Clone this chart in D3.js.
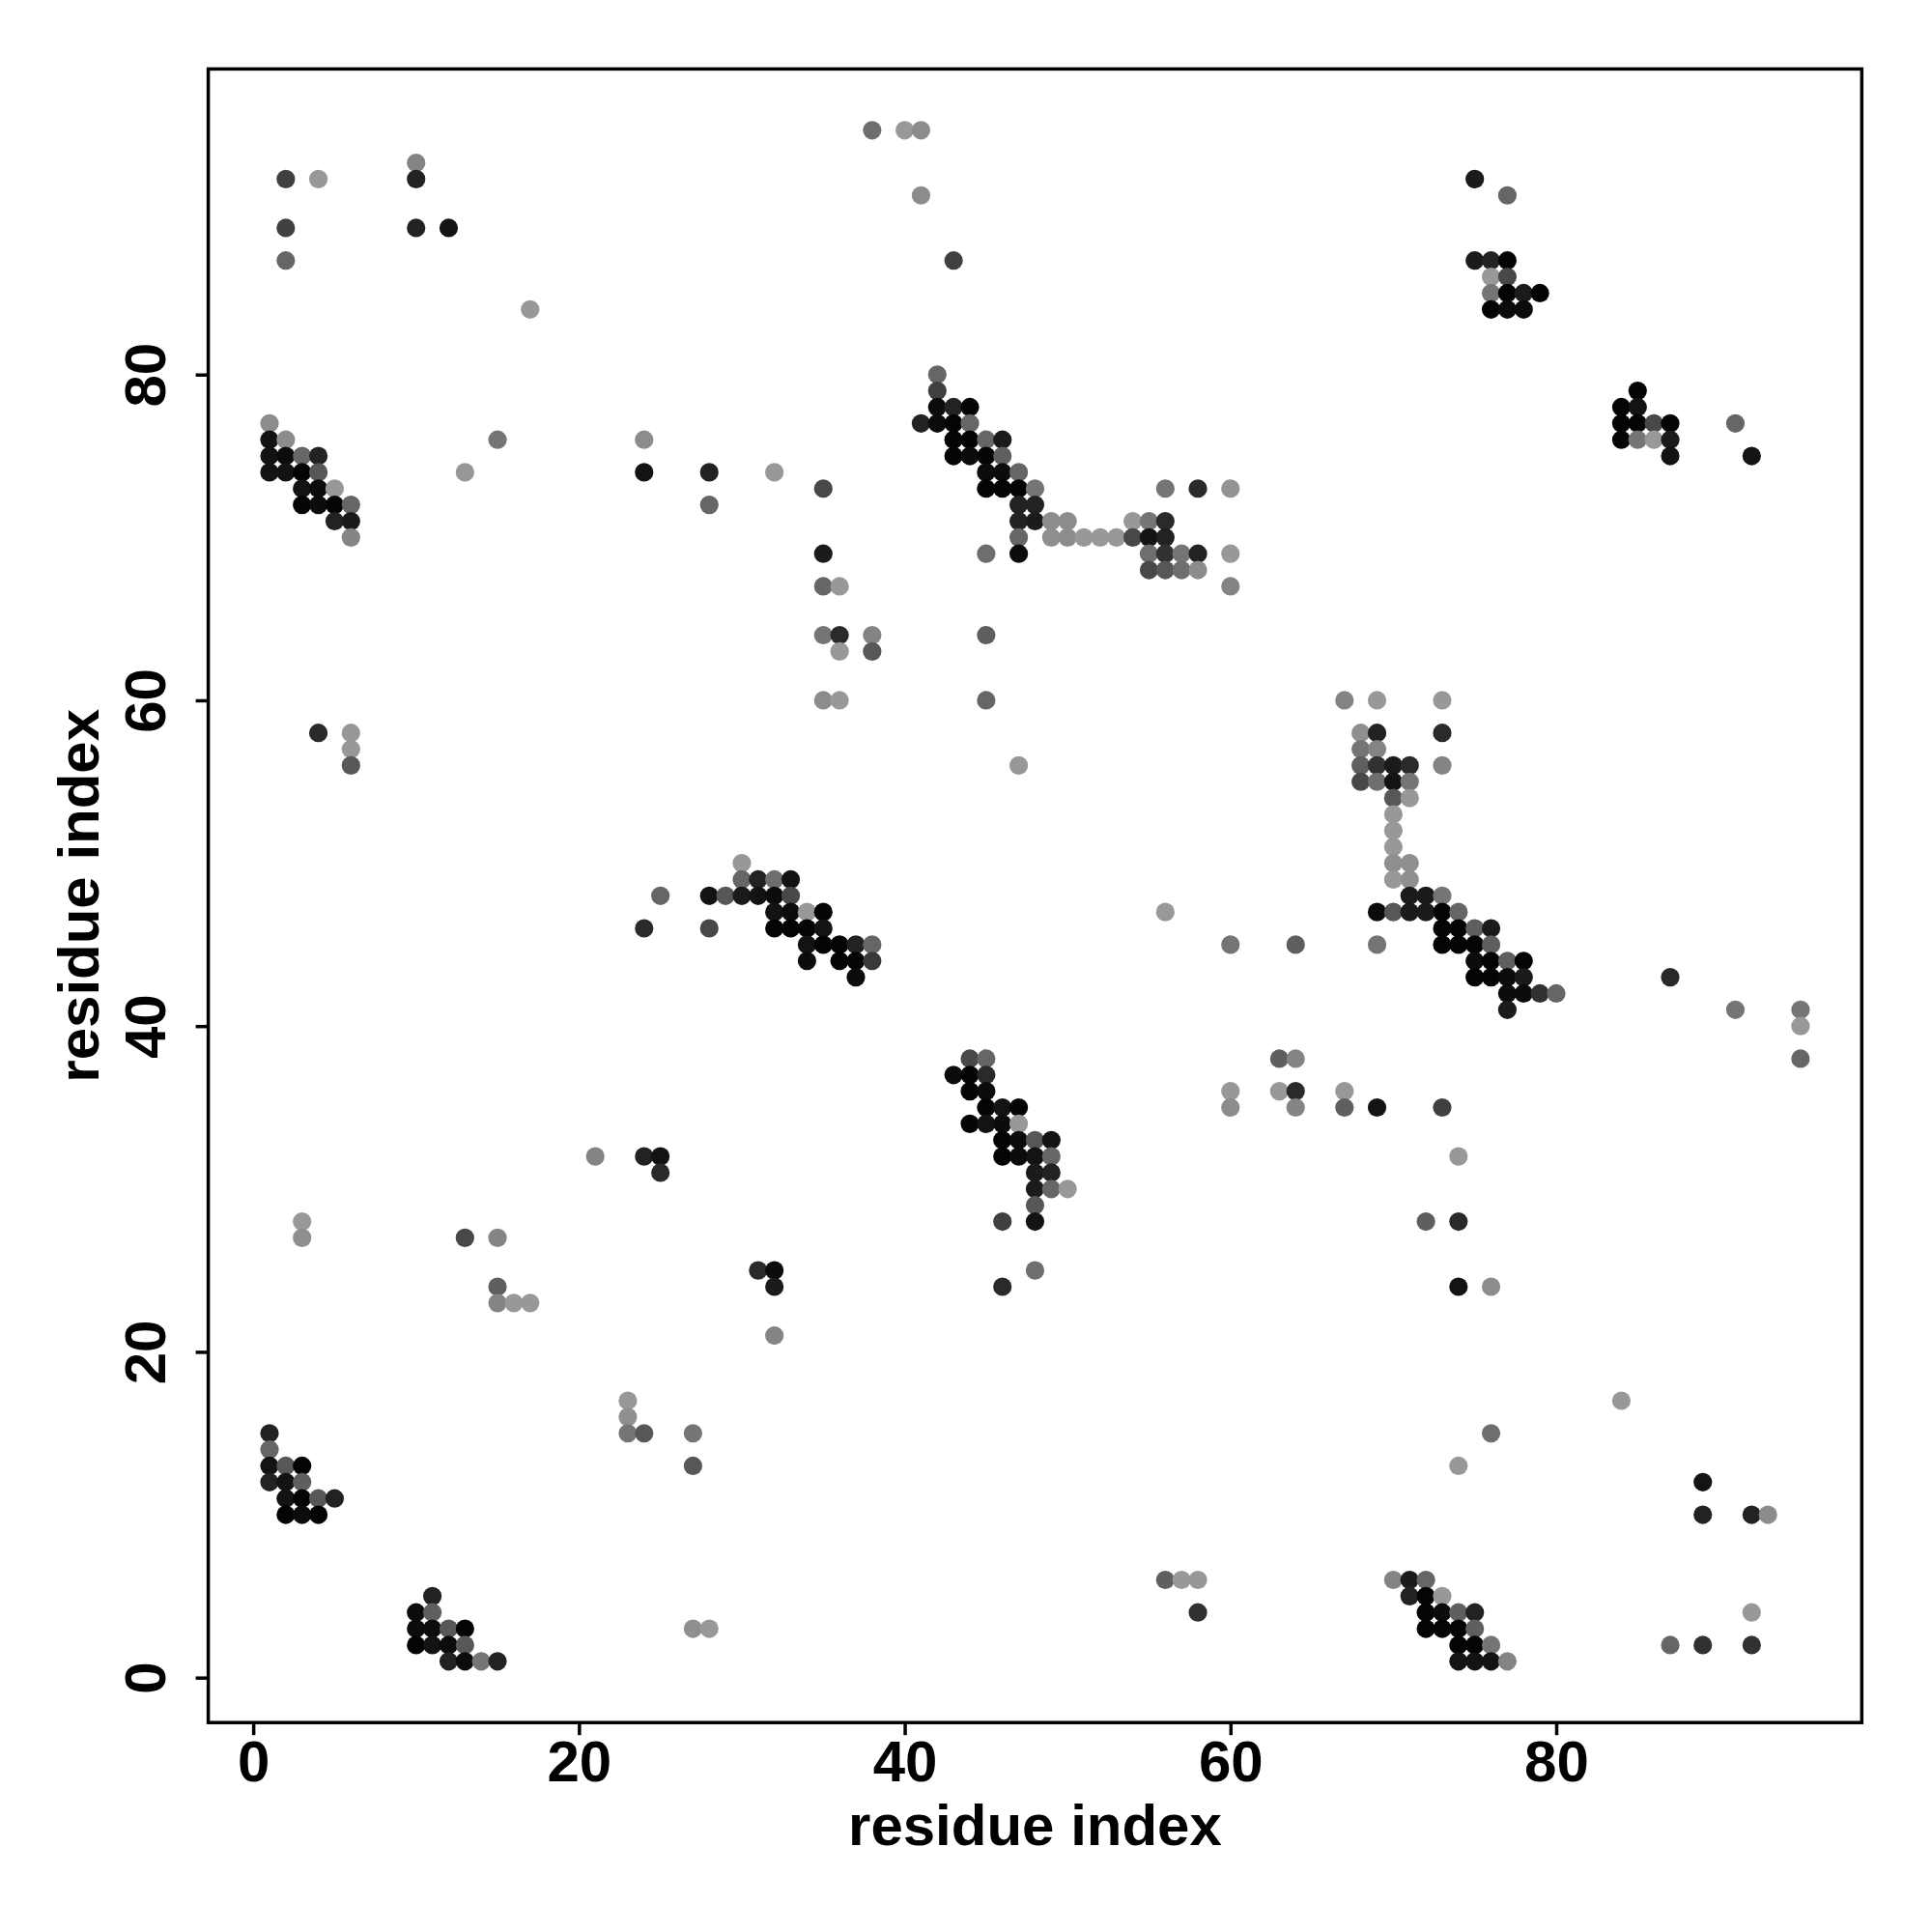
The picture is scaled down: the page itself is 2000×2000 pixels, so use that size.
<!DOCTYPE html>
<html>
<head>
<meta charset="utf-8">
<script src="https://cdn.jsdelivr.net/npm/d3@7"></script>
<style>
  html, body { margin: 0; padding: 0; background: #fff; }
  svg { display: block; }
  text { font-family: "Liberation Sans", Arial, Helvetica, sans-serif; font-weight: bold; }
</style>
</head>
<body>
<svg id="chart" width="2000" height="2000"></svg>
<script>
// ---- data: [residue i, residue j, contact score 0..1] ----
const topLeftScatter = [[2,92,0.6],[4,92,0.02],[10,93,0.15],[10,92,0.8],[2,89,0.6],[10,89,0.8],[12,89,0.9],[2,87,0.35],[17,84,0.02],[15,76,0.25],[13,74,0.02]];
const topLeftBlock = [[1,77,0.1],[1,76,0.9],[2,76,0.1],[1,75,0.9],[2,75,0.95],[3,75,0.35],[4,75,0.8],[1,74,0.9],[2,74,0.9],[3,74,1],[4,74,0.45],[3,73,0.9],[4,73,0.95],[5,73,0.02],[3,72,1],[4,72,0.95],[5,72,1],[6,72,0.35],[5,71,0.8],[6,71,0.85],[6,70,0.15]];
const topMiddleScatter = [[24,76,0.1],[24,74,0.9],[28,74,0.8],[32,74,0.02],[28,72,0.35],[35,73,0.55],[35,69,0.85],[35,67,0.35],[36,67,0.02],[35,64,0.25],[36,64,0.75],[38,64,0.15],[36,63,0.02],[38,63,0.45],[35,60,0.1],[36,60,0.02],[38,95,0.3],[40,95,0.02],[41,95,0.1],[41,91,0.1],[43,87,0.6],[45,69,0.3],[45,64,0.4],[45,60,0.35],[47,56,0.02]];
const upperDiagonal = [[42,80,0.35],[42,79,0.6],[42,78,0.95],[43,78,0.8],[44,78,1],[41,77,0.8],[42,77,0.95],[43,77,1],[44,77,0.35],[43,76,1],[44,76,1],[45,76,0.35],[46,76,0.85],[43,75,1],[44,75,0.95],[45,75,1],[46,75,0.4],[45,74,0.95],[46,74,0.95],[47,74,0.35],[45,73,1],[46,73,1],[47,73,1],[48,73,0.25],[47,72,0.8],[48,72,0.8],[47,71,0.8],[48,71,0.85],[47,70,0.35],[47,69,0.95]];
const upperStrand = [[56,73,0.25],[58,73,0.75],[60,73,0.05],[49,71,0.1],[50,71,0.1],[54,71,0.02],[55,71,0.25],[56,71,0.75],[49,70,0.08],[50,70,0.1],[51,70,0.02],[52,70,0.02],[53,70,0.02],[54,70,0.55],[55,70,0.9],[56,70,0.8],[55,69,0.3],[56,69,0.7],[57,69,0.25],[58,69,0.8],[60,69,0.02],[55,68,0.55],[56,68,0.45],[57,68,0.3],[58,68,0.1],[60,67,0.15]];
const topRightBlock = [[75,92,0.85],[77,91,0.35],[75,87,0.85],[76,87,0.8],[77,87,1],[76,86,0.02],[77,86,0.55],[76,85,0.25],[77,85,1],[78,85,0.85],[79,85,1],[76,84,1],[77,84,0.95],[78,84,0.95],[85,79,1],[84,78,1],[85,78,0.9],[84,77,1],[85,77,1],[86,77,0.55],[87,77,1],[84,76,1],[85,76,0.25],[86,76,0.02],[87,76,0.85],[87,75,0.9],[91,77,0.35],[92,75,0.9]];
const leftMiddleScatter = [[4,58,0.75],[6,58,0.02],[6,57,0.02],[6,56,0.45],[21,32,0.15]];
const middleDiagonal = [[30,50,0.02],[30,49,0.35],[31,49,0.8],[32,49,0.3],[33,49,0.9],[25,48,0.35],[28,48,0.9],[29,48,0.45],[30,48,0.85],[31,48,0.9],[32,48,0.95],[33,48,0.55],[32,47,0.9],[33,47,0.95],[34,47,0.02],[35,47,1],[24,46,0.75],[28,46,0.55],[32,46,1],[33,46,1],[34,46,1],[35,46,0.9],[34,45,0.9],[35,45,1],[36,45,1],[37,45,0.8],[38,45,0.35],[34,44,0.95],[36,44,1],[37,44,1],[38,44,0.65],[37,43,0.95]];
const centralDiagonal = [[44,38,0.55],[45,38,0.35],[43,37,0.95],[44,37,1],[45,37,0.75],[44,36,1],[45,36,0.95],[45,35,1],[46,35,0.9],[47,35,1],[44,34,1],[45,34,0.9],[46,34,0.95],[47,34,0.02],[46,33,1],[47,33,0.95],[48,33,0.45],[49,33,0.9],[46,32,1],[47,32,0.95],[48,32,0.9],[49,32,0.35],[48,31,0.85],[49,31,0.8],[48,30,0.85],[49,30,0.35],[50,30,0.02],[48,29,0.45],[46,28,0.6],[48,28,0.9],[48,25,0.3],[46,24,0.75]];
const rightDiagonal = [[67,60,0.15],[69,60,0.02],[73,60,0.02],[68,58,0.08],[69,58,0.8],[73,58,0.75],[68,57,0.25],[69,57,0.15],[68,56,0.4],[69,56,0.7],[70,56,0.85],[71,56,0.75],[73,56,0.15],[68,55,0.55],[69,55,0.3],[70,55,0.9],[71,55,0.25],[70,54,0.45],[71,54,0.02],[70,53,0.02],[70,52,0.02],[70,51,0.02],[70,50,0.08],[71,50,0.08],[70,49,0.02],[71,49,0.08],[71,48,0.85],[72,48,0.85],[73,48,0.25],[69,47,0.95],[70,47,0.45],[71,47,0.85],[72,47,0.85],[73,47,1],[74,47,0.35],[73,46,1],[74,46,1],[75,46,0.4],[76,46,0.85],[73,45,1],[74,45,1],[75,45,1],[76,45,0.4],[75,44,0.95],[76,44,1],[77,44,0.4],[78,44,1],[75,43,1],[76,43,1],[77,43,0.95],[78,43,0.85],[77,42,0.95],[78,42,0.95],[79,42,0.7],[80,42,0.35],[77,41,0.85]];
const rightMiddleScatter = [[56,47,0.02],[60,45,0.25],[64,45,0.4],[69,45,0.25],[87,43,0.75],[91,41,0.25],[95,41,0.25],[95,40,0.02],[95,38,0.35],[63,38,0.4],[64,38,0.15],[60,36,0.02],[63,36,0.02],[64,36,0.75],[67,36,0.02],[60,35,0.1],[64,35,0.15],[67,35,0.4],[69,35,0.9],[73,35,0.6],[74,32,0.02]];
const bottomLeftBlock = [[3,28,0.02],[3,27,0.08],[13,27,0.55],[15,27,0.15],[15,24,0.4],[15,23,0.15],[16,23,0.02],[17,23,0.02],[1,15,0.8],[1,14,0.35],[1,13,0.9],[2,13,0.45],[3,13,1],[1,12,0.8],[2,12,0.9],[3,12,0.4],[2,11,0.9],[3,11,1],[4,11,0.45],[5,11,0.8],[2,10,1],[3,10,0.95],[4,10,1],[11,5,0.8],[10,4,0.95],[11,4,0.4],[10,3,0.95],[11,3,0.95],[12,3,0.45],[13,3,1],[10,2,1],[11,2,0.9],[12,2,0.95],[13,2,0.45],[12,1,0.8],[13,1,0.95],[14,1,0.25],[15,1,0.8]];
const bottomMiddleScatter = [[24,32,0.8],[25,32,0.9],[25,31,0.75],[31,25,0.75],[32,25,0.95],[32,24,0.85],[32,21,0.15],[23,17,0.02],[23,16,0.08],[23,15,0.25],[24,15,0.45],[27,15,0.25],[27,13,0.45],[27,3,0.08],[28,3,0.02],[56,6,0.4],[57,6,0.02],[58,6,0.02],[58,4,0.7]];
const bottomRightBlock = [[72,28,0.4],[74,28,0.75],[74,24,0.9],[76,24,0.1],[84,17,0.02],[76,15,0.3],[74,13,0.02],[89,12,0.9],[89,10,0.8],[92,10,0.8],[93,10,0.1],[92,4,0.02],[87,2,0.35],[89,2,0.7],[92,2,0.7],[70,6,0.15],[71,6,0.85],[72,6,0.35],[71,5,0.8],[72,5,1],[73,5,0.02],[72,4,1],[73,4,0.95],[74,4,0.4],[75,4,0.8],[72,3,1],[73,3,1],[74,3,1],[75,3,0.4],[74,2,1],[75,2,1],[76,2,0.25],[74,1,0.9],[75,1,0.9],[76,1,0.9],[77,1,0.15]];

const tickValues = [0, 20, 40, 60, 80];
const xLabel = "residue index";
const yLabel = "residue index";

// ---- drawing ----
const contacts = [].concat(topLeftScatter, topLeftBlock, topMiddleScatter, upperDiagonal, upperStrand,
  topRightBlock, leftMiddleScatter, middleDiagonal, centralDiagonal, rightDiagonal, rightMiddleScatter,
  bottomLeftBlock, bottomMiddleScatter, bottomRightBlock);

const plot = { left: 215.6, right: 1927.3, top: 71.4, bottom: 1783.2 };
const fontSize = 60;

function padded(ext) { const p = (ext[1] - ext[0]) * 0.04; return [ext[0] - p, ext[1] + p]; }
const xs = padded(d3.extent(contacts, d => d[0]));
const ys = padded(d3.extent(contacts, d => d[1]));

const x = d3.scaleLinear().domain(xs).range([plot.left, plot.right]);
const y = d3.scaleLinear().domain(ys).range([plot.bottom, plot.top]);
const shade = d3.scaleLinear().domain([0, 1]).range(["#9b9b9b", "#040404"]);

const svg = d3.select("#chart");
svg.append("rect").attr("width", 2000).attr("height", 2000).attr("fill", "#fff");

svg.append("g").selectAll("circle").data(contacts).join("circle")
  .attr("cx", d => x(d[0]))
  .attr("cy", d => y(d[1]))
  .attr("r", 9.6)
  .attr("fill", d => shade(d[2]));

// box
svg.append("rect")
  .attr("x", plot.left).attr("y", plot.top)
  .attr("width", plot.right - plot.left).attr("height", plot.bottom - plot.top)
  .attr("fill", "none").attr("stroke", "#000").attr("stroke-width", 3.5);

// x axis
const gx = svg.append("g").attr("transform", `translate(0,${plot.bottom})`)
  .call(d3.axisBottom(x).tickValues(tickValues).tickSize(13).tickSizeOuter(0).tickPadding(5).tickFormat(d3.format("d")));
gx.select(".domain").remove();
gx.selectAll(".tick line").attr("stroke", "#000").attr("stroke-width", 3.5);
gx.selectAll(".tick text").attr("font-size", fontSize).attr("fill", "#000")
  .attr("font-family", "Liberation Sans, Arial, sans-serif").attr("font-weight", "bold");

// y axis
const gy = svg.append("g").attr("transform", `translate(${plot.left},0)`)
  .call(d3.axisLeft(y).tickValues(tickValues).tickSize(13).tickSizeOuter(0).tickFormat(d3.format("d")));
gy.select(".domain").remove();
gy.selectAll(".tick line").attr("stroke", "#000").attr("stroke-width", 3.5);
gy.selectAll(".tick text")
  .attr("x", null).attr("dy", null).attr("y", 0)
  .attr("text-anchor", "middle")
  .attr("transform", "translate(-45,0) rotate(-90)")
  .attr("font-size", fontSize).attr("fill", "#000")
  .attr("font-family", "Liberation Sans, Arial, sans-serif").attr("font-weight", "bold");

// axis titles
svg.append("text")
  .attr("x", (plot.left + plot.right) / 2).attr("y", 1910)
  .attr("text-anchor", "middle").attr("font-size", fontSize).attr("fill", "#000")
  .text(xLabel);
svg.append("text")
  .attr("transform", `translate(102,${(plot.top + plot.bottom) / 2}) rotate(-90)`)
  .attr("text-anchor", "middle").attr("font-size", fontSize).attr("fill", "#000")
  .text(yLabel);
</script>
</body>
</html>
